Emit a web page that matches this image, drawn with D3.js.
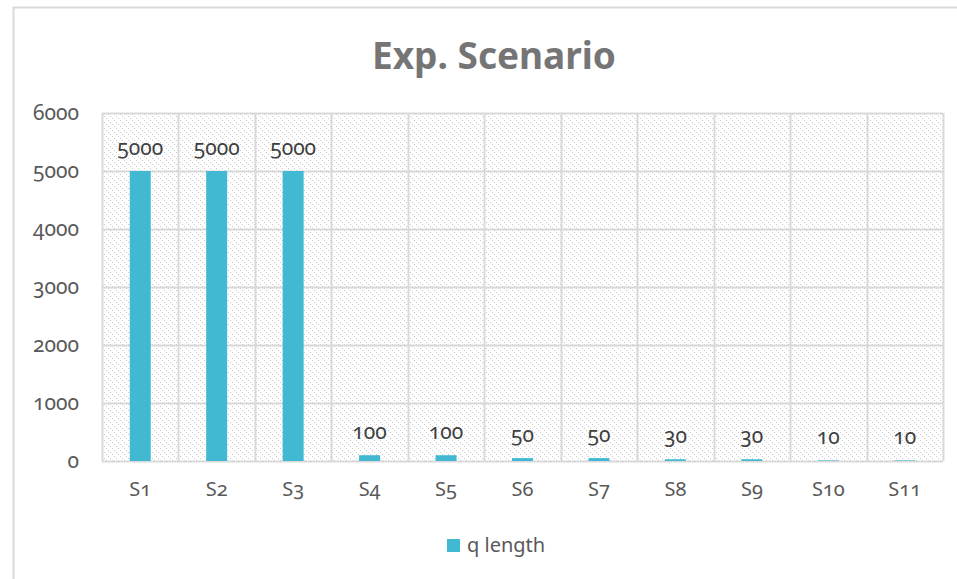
<!DOCTYPE html>
<html>
<head>
<meta charset="utf-8">
<script src="https://cdn.jsdelivr.net/npm/d3@7"></script>
<style>
  html, body { margin: 0; padding: 0; background: #fff; }
  svg { display: block; }
  .num { font-variant-numeric: oldstyle-nums; font-feature-settings: "onum" 1; }
</style>
</head>
<body>
<svg id="chart" width="957" height="579"></svg>
<script>
// Scenario names and queue lengths
const categories = ["S1", "S2", "S3", "S4", "S5", "S6", "S7", "S8", "S9", "S10", "S11"];
const qLength = [5000, 5000, 5000, 100, 100, 50, 50, 30, 30, 10, 10];
const yTicks = [0, 1000, 2000, 3000, 4000, 5000, 6000];
const seriesName = "q length";
const chartTitle = "Exp. Scenario";

const W = 957, H = 579;
const margin = { left: 102, right: 14, top: 113, bottom: 118 };
const font = "'Noto Sans', 'Open Sans', sans-serif";
const textColor = "#595959";
const gridColor = "#d9d9d9";
const barColor = "#41b9d2";

const svg = d3.select("#chart");

// dotted diagonal hatch fill for the plot area
const defs = svg.append("defs");
const pat = defs.append("pattern")
  .attr("id", "hatch")
  .attr("patternUnits", "userSpaceOnUse")
  .attr("width", 6).attr("height", 6);
pat.selectAll("rect")
  .data([0, 2, 4])
  .join("rect")
  .attr("x", d => d).attr("y", d => d)
  .attr("width", 1.3).attr("height", 1.3)
  .attr("fill", "#c9c9c9")
  .attr("shape-rendering", "crispEdges");

// outer chart frame
svg.append("rect")
  .attr("x", 13.5).attr("y", 7.5)
  .attr("width", W).attr("height", H)
  .attr("fill", "#fff")
  .attr("stroke", "#d9d9d9")
  .attr("stroke-width", 2);

const x = d3.scaleBand()
  .domain(categories)
  .range([margin.left, W - margin.right])
  .paddingInner(0).paddingOuter(0);

const y = d3.scaleLinear()
  .domain([0, 6000])
  .range([H - margin.bottom, margin.top]);

// plot background
svg.append("rect")
  .attr("x", margin.left).attr("y", margin.top)
  .attr("width", W - margin.right - margin.left)
  .attr("height", y(0) - y(6000))
  .attr("fill", "url(#hatch)");

// horizontal gridlines
svg.append("g")
  .selectAll("line")
  .data(yTicks)
  .join("line")
  .attr("x1", margin.left).attr("x2", W - margin.right)
  .attr("y1", d => Math.round(y(d)) + 0.5).attr("y2", d => Math.round(y(d)) + 0.5)
  .attr("stroke", gridColor).attr("stroke-width", 2);

// vertical gridlines at category boundaries
const bounds = categories.map(c => x(c)).concat([x.range()[1]]);
svg.append("g")
  .selectAll("line")
  .data(bounds)
  .join("line")
  .attr("x1", d => Math.round(d) + 0.5).attr("x2", d => Math.round(d) + 0.5)
  .attr("y1", y(6000)).attr("y2", y(0))
  .attr("stroke", gridColor).attr("stroke-width", 2);

// y axis labels
const yAxis = d3.axisLeft(y).tickValues(yTicks).tickFormat(d3.format("d")).tickSize(0).tickPadding(0);
const gy = svg.append("g")
  .attr("transform", `translate(${margin.left - 23},0)`)
  .call(yAxis);
gy.select(".domain").remove();
gy.selectAll("text")
  .attr("class", "num")
  .attr("fill", textColor)
  .style("font-family", font)
  .style("font-size", "21px");

// x axis labels
const xAxis = d3.axisBottom(x).tickSize(0).tickPadding(0);
const gx = svg.append("g")
  .attr("transform", `translate(0,${y(0) + 21})`)
  .call(xAxis);
gx.select(".domain").remove();
gx.selectAll("text")
  .attr("class", "num")
  .attr("fill", textColor)
  .style("font-family", font)
  .style("font-size", "20px");

// bars
const barW = 21;
svg.append("g")
  .selectAll("rect")
  .data(qLength)
  .join("rect")
  .attr("x", (d, i) => x(categories[i]) + x.bandwidth() / 2 - barW / 2)
  .attr("y", d => y(d))
  .attr("width", barW)
  .attr("height", d => y(0) - y(d))
  .attr("fill", barColor);

// value labels above bars
svg.append("g")
  .selectAll("text")
  .data(qLength)
  .join("text")
  .attr("class", "num")
  .attr("x", (d, i) => x(categories[i]) + x.bandwidth() / 2)
  .attr("y", d => y(d) - 16)
  .attr("text-anchor", "middle")
  .attr("fill", "#404040")
  .style("font-family", font)
  .style("font-size", "21px")
  .text(d => d);

// title
svg.append("text")
  .attr("x", 494).attr("y", 69)
  .attr("text-anchor", "middle")
  .attr("fill", "#757575")
  .style("font-family", font)
  .style("font-size", "37px")
  .style("font-weight", "bold")
  .text(chartTitle);

// legend
const lg = svg.append("g").attr("transform", "translate(447,539)");
lg.append("rect").attr("width", 13).attr("height", 13).attr("fill", barColor);
lg.append("text")
  .attr("x", 20).attr("y", 13)
  .attr("fill", textColor)
  .style("font-family", font)
  .style("font-size", "20px")
  .text(seriesName);
</script>
</body>
</html>
